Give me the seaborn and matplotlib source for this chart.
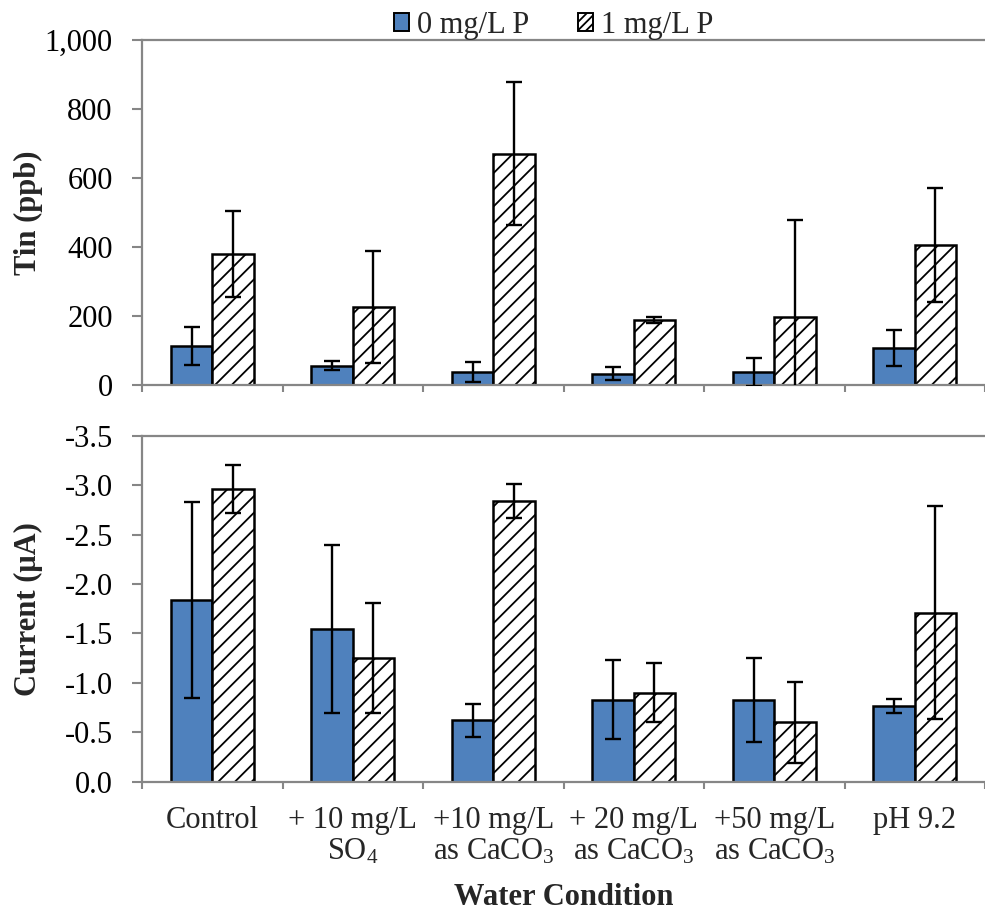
import numpy as np
import pandas as pd
import matplotlib
matplotlib.use("Agg")
import matplotlib.pyplot as plt
import seaborn as sns
from matplotlib.patches import Patch
from matplotlib.ticker import FuncFormatter

# ---- data ----
categories = ["Control", "+ 10 mg/L\nSO$_4$", "+10 mg/L\nas CaCO$_3$",
              "+ 20 mg/L\nas CaCO$_3$", "+50 mg/L\nas CaCO$_3$", "pH 9.2"]
series = ["0 mg/L P", "1 mg/L P"]

tin_0p = [115, 57, 39, 34, 39, 109]
tin_0p_err = [55, 12, 29, 20, 40, 52]
tin_1p = [381, 226, 671, 189, 197, 405]
tin_1p_err = [125, 162, 207, 9, 282, 165]

cur_0p = [-1.84, -1.54, -0.62, -0.83, -0.83, -0.77]
cur_0p_err = [0.99, 0.85, 0.17, 0.40, 0.425, 0.07]
cur_1p = [-2.96, -1.25, -2.84, -0.90, -0.60, -1.71]
cur_1p_err = [0.245, 0.56, 0.17, 0.30, 0.41, 1.08]

y_top_ticks = [0, 200, 400, 600, 800, 1000]
y_bot_ticks = [0.0, -0.5, -1.0, -1.5, -2.0, -2.5, -3.0, -3.5]

# ---- style ----
sns.set_theme(style="white")
plt.rcParams["font.family"] = ["Liberation Serif", "DejaVu Serif"]
plt.rcParams["mathtext.fontset"] = "custom"
plt.rcParams["mathtext.rm"] = "Liberation Serif"
plt.rcParams["mathtext.it"] = "Liberation Serif:italic"
plt.rcParams["mathtext.bf"] = "Liberation Serif:bold"
plt.rcParams["axes.unicode_minus"] = False
plt.rcParams["hatch.linewidth"] = 1.3
plt.rcParams["hatch.color"] = "black"

BLUE = "#4F81BD"
GRAY = "#868686"
FS = 22

fig = plt.figure(figsize=(9.85, 9.14), dpi=100)
left, right = 142 / 985, 1.0
ax1 = fig.add_axes([left, 1 - 385.3 / 914, right - left, (385.3 - 40) / 914])
ax2 = fig.add_axes([left, 1 - 781.7 / 914, right - left, (781.7 - 435.7) / 914])

def long_df(a, b):
    return pd.DataFrame({
        "cond": categories * 2,
        "P": [series[0]] * len(categories) + [series[1]] * len(categories),
        "val": list(a) + list(b),
    })

def draw(ax, a, ae, b, be):
    df = long_df(a, b)
    sns.barplot(data=df, x="cond", y="val", hue="P", order=categories,
                hue_order=series, palette=[BLUE, "white"], width=0.59,
                edgecolor="black", linewidth=1.8, legend=False, ax=ax,
                saturation=1)
    for p in ax.containers[1].patches:
        p.set_hatch("//")
        p.set_facecolor("white")
    for cont, vals, errs in [(ax.containers[0], a, ae), (ax.containers[1], b, be)]:
        xs = [p.get_x() + p.get_width() / 2 for p in cont.patches]
        ax.errorbar(xs, vals, yerr=errs, fmt="none", ecolor="black",
                    elinewidth=1.7, capsize=5.8, capthick=1.7, zorder=5)
    ax.set_xlim(-0.5, 5.44)
    ax.set_xticks(np.arange(-0.5, 6.0, 1.0))
    ax.set_xticklabels([])
    ax.tick_params(axis="x", which="major", length=5, width=1.5, color=GRAY,
                   direction="out", bottom=True)
    ax.tick_params(axis="y", length=7, width=1.5, color=GRAY, direction="out",
                   left=True, labelsize=FS, labelcolor="black", pad=14)
    for s in ["left", "bottom", "top"]:
        ax.spines[s].set_color(GRAY)
        ax.spines[s].set_linewidth(1.6)
    ax.spines["right"].set_visible(False)
    ax.set_xlabel("")

draw(ax1, tin_0p, tin_0p_err, tin_1p, tin_1p_err)
ax1.set_ylim(0, 1000)
ax1.set_yticks(y_top_ticks)
ax1.yaxis.set_major_formatter(FuncFormatter(lambda v, p: f"{v:,.0f}"))
ax1.set_ylabel("Tin (ppb)", fontsize=FS, fontweight="bold")
ax1.yaxis.set_label_coords(-0.117, 0.5)

draw(ax2, cur_0p, cur_0p_err, cur_1p, cur_1p_err)
ax2.set_ylim(0, -3.5)
ax2.set_yticks(y_bot_ticks)
ax2.yaxis.set_major_formatter(FuncFormatter(lambda v, p: f"{v:.1f}" if v != 0 else "0.0"))
ax2.set_ylabel("Current (\u03bcA)", fontsize=FS, fontweight="bold")
ax2.yaxis.set_label_coords(-0.117, 0.5)
ax2.set_xticks(np.arange(len(categories)), minor=True)
ax2.set_xticklabels(categories, minor=True, fontsize=FS, linespacing=1.1)
ax2.tick_params(axis="x", which="minor", length=0, pad=17.5)
ax2.set_xlabel("Water Condition", fontsize=FS, fontweight="bold", labelpad=12)

handles = [Patch(facecolor=BLUE, edgecolor="black", linewidth=1.4, label=series[0]),
           Patch(facecolor="white", edgecolor="black", linewidth=1.4, hatch="////", label=series[1])]
fig.legend(handles=handles, loc="upper center", bbox_to_anchor=(0.562, 1.018),
           ncol=2, frameon=False, fontsize=FS, handlelength=0.5, handleheight=0.5,
           handletextpad=0.25, columnspacing=1.6)

fig.savefig("out.png", dpi=100)
